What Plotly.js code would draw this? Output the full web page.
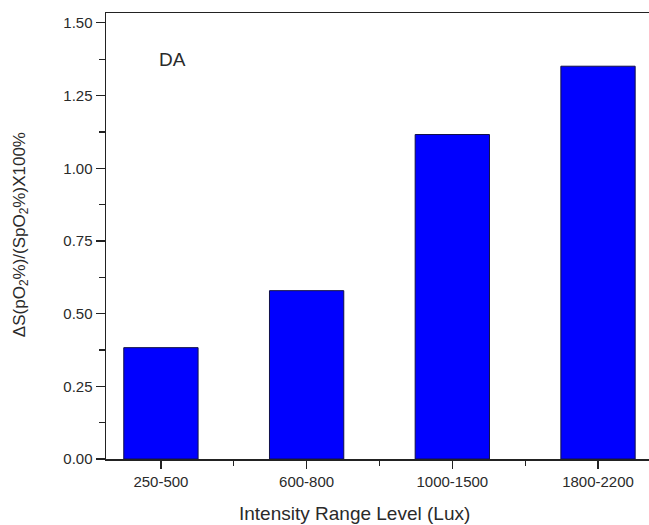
<!DOCTYPE html>
<html>
<head>
<meta charset="utf-8">
<script src="https://cdn.plot.ly/plotly-3.0.1.min.js"></script>
<style>html,body{margin:0;padding:0;background:#fff;}#chart{width:649px;height:525px;}</style>
</head>
<body>
<div id="chart"></div>
<script>
const categories = ["250-500", "600-800", "1000-1500", "1800-2200"];
const values = [0.383, 0.579, 1.116, 1.351];
const yTickVals = [0, 0.25, 0.5, 0.75, 1.0, 1.25, 1.5];
const panelLabel = "DA";
const xTitle = "Intensity Range Level (Lux)";
const yTitle = "ΔS(pO<sub>2</sub>%)/(SpO<sub>2</sub>%)X100%";

const xIdx = categories.map((c, i) => i);
const textColor = "#2a2a2a";
const fam = "Liberation Sans, Arial, sans-serif";

const trace = {
  type: "bar",
  x: xIdx,
  y: values,
  width: 0.51,
  marker: {color: "#0000ff", line: {color: "#10104a", width: 1}},
  hoverinfo: "skip"
};

const layout = {
  width: 649, height: 525,
  margin: {l: 106, r: 0, t: 13, b: 66, pad: 0},
  paper_bgcolor: "#fff", plot_bgcolor: "#fff",
  showlegend: false,
  font: {family: fam, size: 15, color: textColor},
  xaxis: {
    range: [-0.377, 3.35],
    tickvals: xIdx, ticktext: categories,
    ticks: "outside", ticklen: 8, tickwidth: 1.2, tickcolor: "#222",
    showline: true, linewidth: 1.5, linecolor: "#222", mirror: true,
    showgrid: false, zeroline: false,
    minor: {tickvals: [0.5, 1.5, 2.5], ticks: "outside", ticklen: 5, tickwidth: 1.2, tickcolor: "#222"},
    tickfont: {family: fam, size: 15, color: textColor}
  },
  yaxis: {
    range: [0, 1.534],
    tickvals: yTickVals, tickformat: ".2f",
    ticks: "outside", ticklen: 9, tickwidth: 1.2, tickcolor: "#222",
    showline: true, linewidth: 1.5, linecolor: "#222", mirror: false,
    showgrid: false, zeroline: false,
    minor: {dtick: 0.125, tick0: 0, ticks: "outside", ticklen: 6, tickwidth: 1.2, tickcolor: "#222"},
    tickfont: {family: fam, size: 15, color: textColor}
  },
  annotations: [
    {
      text: panelLabel, xref: "paper", yref: "paper",
      x: 0.123, y: 0.895, xanchor: "center", yanchor: "middle",
      showarrow: false, font: {family: fam, size: 19, color: textColor}
    },
    {
      text: xTitle, xref: "paper", yref: "paper",
      x: 0.457, y: -0.123, xanchor: "center", yanchor: "middle",
      showarrow: false, font: {family: fam, size: 19, color: textColor}
    },
    {
      text: yTitle, xref: "paper", yref: "paper", textangle: -90,
      x: -0.1565, y: 0.502, xanchor: "center", yanchor: "middle",
      showarrow: false, font: {family: fam, size: 17, color: textColor}
    }
  ]
};

Plotly.newPlot("chart", [trace], layout, {staticPlot: true, displayModeBar: false});
</script>
</body>
</html>
